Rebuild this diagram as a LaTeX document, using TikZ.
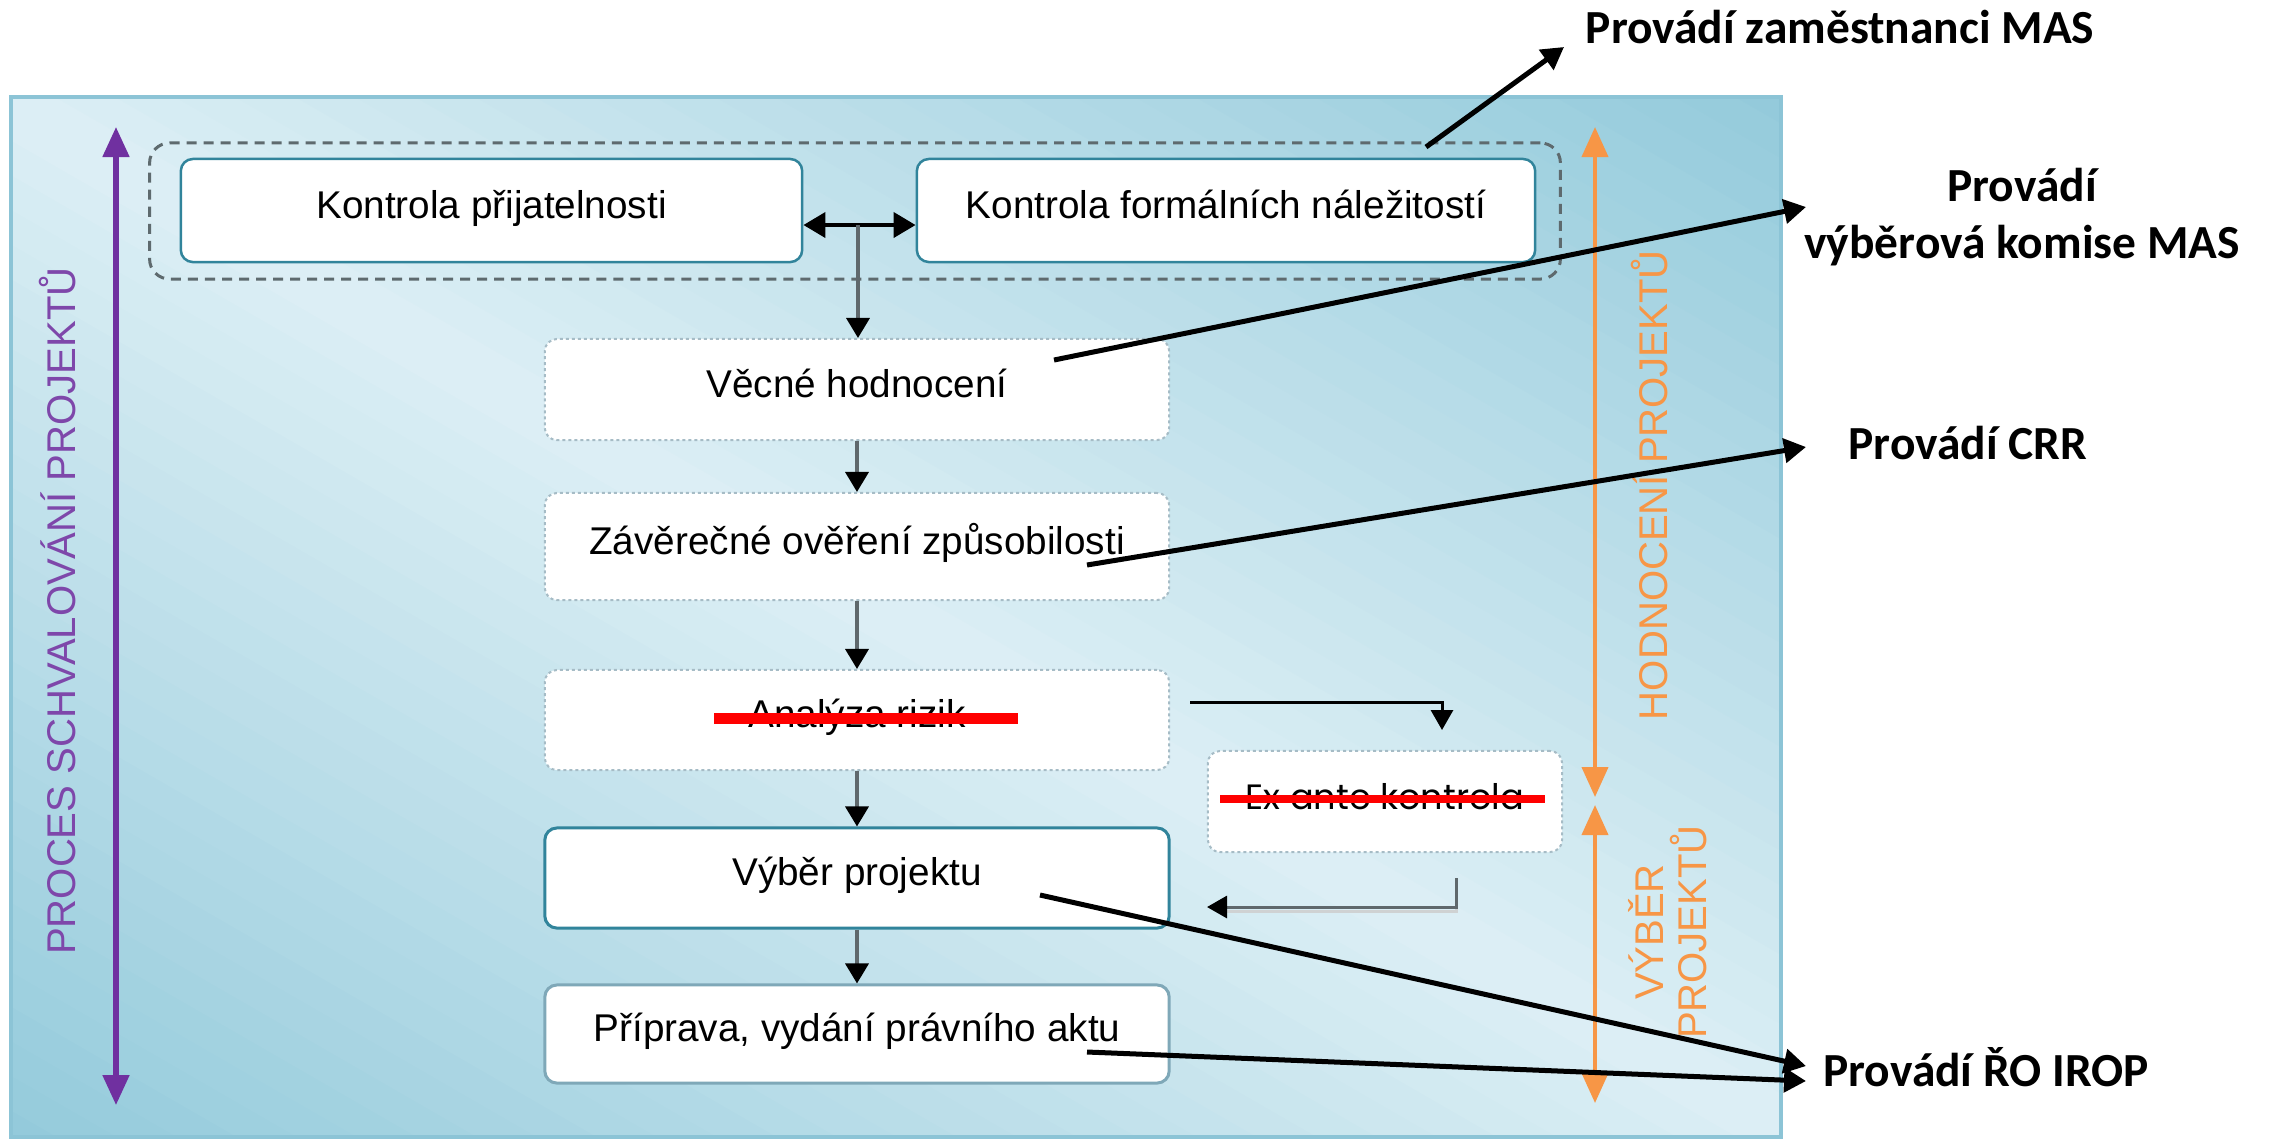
\documentclass[tikz,border=0pt]{standalone}
\usepackage{fontspec}
\setmainfont{Liberation Sans}
\newfontfamily\annfont{Carlito}
\newfontfamily\geofont{Poppins}
\usetikzlibrary{arrows.meta}
\definecolor{bgdark}{HTML}{93CADB}
\definecolor{bglight}{HTML}{DDEFF5}
\definecolor{panelborder}{HTML}{8CC4D6}
\definecolor{boxteal}{HTML}{31849B}
\definecolor{boxsoft}{HTML}{7FA8B8}
\definecolor{dotgray}{HTML}{A6BCC6}
\definecolor{grpgray}{HTML}{5E6A6E}
\definecolor{arrgray}{HTML}{5F686C}
\definecolor{purp}{HTML}{7030A0}
\definecolor{purptext}{HTML}{7E47AA}
\definecolor{orng}{HTML}{F79646}
\definecolor{strike}{HTML}{FF0000}
\tikzset{
  flowbox/.style={draw=boxteal, line width=0.025cm, fill=white, rounded corners=0.12cm,
    inner sep=0pt, text height=8pt, text depth=3.5pt, font=\fontsize{11}{13}\selectfont},
  dotbox/.style={flowbox, draw=dotgray, line width=0.02cm, dash pattern=on 0.03cm off 0.03cm},
  groupbox/.style={draw=grpgray, line width=0.03cm, dash pattern=on 0.1cm off 0.07cm,
    rounded corners=0.2cm, inner sep=0pt},
  flowarrow/.style={draw=arrgray, line width=0.035cm, -{Triangle[width=0.23cm,length=0.2cm,color=black]}},
  dblarrow/.style={draw=black, line width=0.04cm,
    {Triangle[width=0.25cm,length=0.22cm]}-{Triangle[width=0.25cm,length=0.22cm]}},
  sidearrow/.style={draw=black, line width=0.03cm, -{Triangle[width=0.22cm,length=0.2cm,color=black]}},
  backarrow/.style={draw=arrgray, line width=0.03cm, -{Triangle[width=0.22cm,length=0.2cm,color=black]}},
  phasearrow/.style={line width=0.05cm,
    {Triangle[width=0.26cm,length=0.3cm]}-{Triangle[width=0.26cm,length=0.3cm]}},
  phasetext/.style={rotate=90, font=\fontsize{11.4}{13.5}\selectfont, inner sep=0pt},
  annarrow/.style={draw=black, line width=0.05cm, -{Triangle[width=0.24cm,length=0.22cm]}},
  anntext/.style={font=\annfont\bfseries\fontsize{13.5}{16}\selectfont, inner sep=0pt},
  redbar/.style={draw=strike, line cap=butt}
}
\begin{document}
\begin{tikzpicture}[x=0.01cm, y=-0.01cm]
\useasboundingbox (0,0) rectangle (2272,1141);
% panel with diagonal gradient (dark top-right and bottom-left, light along the other diagonal)
\begin{scope}
  \clip (11,97) rectangle (1781,1137);
  \begin{scope}[shift={(896,617)}, rotate=60]
    \foreach \t in {-930,-900,...,930} {
      \pgfmathtruncatemacro\p{max(0,100*(1-abs(\t+15)/900))}
      \fill[bglight!\p!bgdark] (\t,-1600) rectangle (\t+31,1600);
    }
  \end{scope}
\end{scope}
\draw[panelborder, line width=0.04cm] (11,97) rectangle (1781,1137);

% group of MAS controls
\node[groupbox, minimum width=14.10cm, minimum height=1.36cm] (grp) at (855,211) {};

% flow boxes
\node[flowbox, minimum width=6.21cm, minimum height=1.03cm] (kp) at (491.5,210.5) {Kontrola přijatelnosti};
\node[flowbox, minimum width=6.18cm, minimum height=1.03cm] (kf) at (1226,210.5) {Kontrola formálních náležitostí};
\node[dotbox, minimum width=6.24cm, minimum height=1.01cm] (vh) at (857,389.5) {Věcné hodnocení};
\node[dotbox, minimum width=6.24cm, minimum height=1.07cm] (zo) at (857,546.5) {Závěrečné ověření způsobilosti};
\node[dotbox, minimum width=6.24cm, minimum height=1.00cm] (ar) at (857,720) {Analýza rizik};
\node[flowbox, line width=0.03cm, minimum width=6.24cm, minimum height=1.00cm] (vp) at (857,878) {Výběr projektu};
\node[flowbox, draw=boxsoft, line width=0.03cm, minimum width=6.24cm, minimum height=0.98cm] (pr) at (857,1034) {Příprava, vydání právního aktu};
\node[dotbox, font=\geofont\fontsize{10}{12}\selectfont, minimum width=3.54cm, minimum height=1.01cm] (ea) at (1385,801.5) {Ex ante kontrola};

% strike-through bars
\draw[redbar, line width=0.11cm] (714,718.5) -- (1018,718.5);
\draw[redbar, line width=0.08cm] (1220,799) -- (1545,799);

% flow connectors
\coordinate (j) at (858,225);
\draw[dblarrow] (kp.east |- j) -- (kf.west |- j);
\draw[flowarrow] (j) -- (j |- vh.north);
\draw[flowarrow] (vh.south) -- (zo.north);
\draw[flowarrow] (zo.south) -- (ar.north);
\draw[flowarrow] (ar.south) -- (vp.north);
\draw[flowarrow] (vp.south) -- (pr.north);

\coordinate (e1) at (1190,702);
\coordinate (e2) at (1442,730);
\draw[sidearrow] (e1) -| (e2);
\coordinate (b1) at (1456,878);
\coordinate (b2) at (1207,907);
\draw[white!70!arrgray, line width=0.03cm] ([yshift=-0.04cm]b1) |- ([yshift=-0.04cm,xshift=0.2cm]b2);
\draw[backarrow] (b1) |- (b2);

% phase arrows
\coordinate (pt) at (116,127);
\coordinate (pb) at (116,1105);
\draw[phasearrow, purp] (pt) -- (pb);
\node[phasetext, text=purptext] (ptx) at (58,611) {PROCES SCHVALOVÁNÍ PROJEKTŮ};

\coordinate (o1) at (1595,127);
\coordinate (o2) at (1595,797);
\coordinate (o3) at (1595,805);
\coordinate (o4) at (1595,1103);
\draw[phasearrow, orng, line width=0.04cm] (o1) -- (o2);
\draw[phasearrow, orng, line width=0.04cm] (o3) -- (o4);
\node[phasetext, text=orng] (htx) at (1650,485) {HODNOCENÍ PROJEKTŮ};
\node[phasetext, text=orng, align=center, font=\fontsize{11.4}{12.2}\selectfont] (vtx) at (1668,932) {VÝBĚR\\PROJEKTŮ};

% annotations
\node[anntext, anchor=base] (t1) at (1840,43) {Provádí zaměstnanci MAS};
\node[anntext, align=center] (t2) at (2022,217) {Provádí\\výběrová komise MAS};
\node[anntext, anchor=base] (t3) at (1968,459) {Provádí CRR};
\node[anntext, anchor=base] (t4) at (1986,1086) {Provádí ŘO IROP};

\coordinate (a1s) at (1426,147);
\coordinate (a1e) at (1564,47);
\coordinate (a2s) at (1054,360);
\coordinate (a2e) at (1806,207);
\coordinate (a3s) at (1087,565);
\coordinate (a3e) at (1806,447);
\coordinate (a4s) at (1040,895);
\coordinate (a4e) at (1806,1066);
\coordinate (a5s) at (1087,1052);
\coordinate (a5e) at (1806,1081);
\draw[annarrow] (a1s) -- (a1e);
\draw[annarrow] (a2s) -- (a2e);
\draw[annarrow] (a3s) -- (a3e);
\draw[annarrow] (a4s) -- (a4e);
\draw[annarrow] (a5s) -- (a5e);
\end{tikzpicture}
\end{document}
